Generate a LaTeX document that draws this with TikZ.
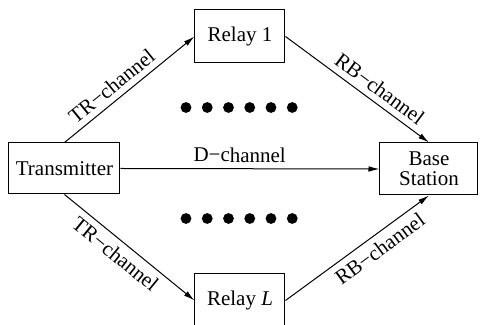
\documentclass[tikz,border=0pt]{standalone}
\usepackage{fontspec}
\setmainfont{Liberation Serif}
\usetikzlibrary{arrows.meta}
\begin{document}
\begin{tikzpicture}[x=0.5pt,y=-0.5pt,
  block/.style={draw, line width=0.5pt, inner sep=0pt, align=center,
    font=\fontsize{10.5}{10}\selectfont},
  link/.style={draw, line width=0.5pt, -{Latex[length=5.5pt,width=2.8pt]}},
  lbl/.style={font=\fontsize{10.5}{12}\selectfont, sloped, inner sep=1pt},
  dot/.style={circle, fill, inner sep=0pt, minimum size=5.4pt}]
\clip (0,0) rectangle (489,325);
% blocks
\node[block, minimum width=55.5pt, minimum height=25.5pt] (tx) at (64.5,168.5) {Transmitter};
\node[block, minimum width=45pt, minimum height=26.5pt] (r1) at (240,36.5) {Relay 1};
\node[block, minimum width=45pt, minimum height=26.5pt] (rl) at (240,300.5) {Relay \textit{L}};
\node[block, minimum width=49pt, minimum height=26pt] (bs) at (429,169) {Base\\Station};
% channels
\draw[link] (tx.north) -- node[lbl, above=2pt, pos=0.43] (l1) {TR−channel} (r1.west);
\draw[link] (tx.south) -- node[lbl, below=2pt, pos=0.46] (l2) {TR−channel} (rl.west);
\draw[link] (r1.east) -- node[lbl, above=2pt, pos=0.6] (l3) {RB−channel} (bs.north);
\draw[link] (rl.east) -- node[lbl, below=2pt, pos=0.6] (l4) {RB−channel} (bs.south);
\draw[link] (tx.east) -- node[lbl, above=2pt, pos=0.46] (l5) {D−channel} (bs.west);
% ellipsis dots for the relays in between
\foreach \i in {0,...,5} {
  \node[dot] (u\i) at (186+21.25*\i,107.5) {};
  \node[dot] (d\i) at (186+21.25*\i,218.5) {};
}
\end{tikzpicture}
\end{document}
